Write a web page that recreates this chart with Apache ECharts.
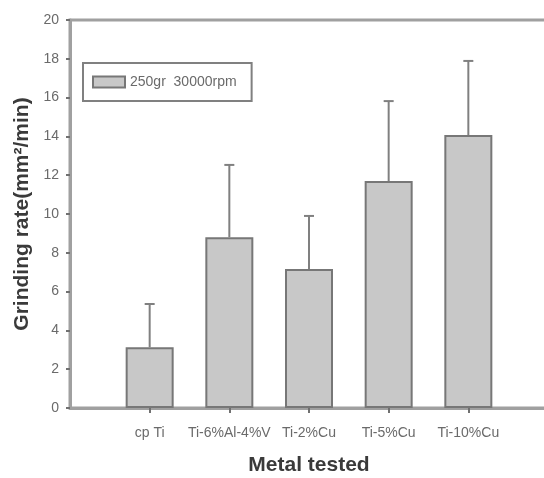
<!DOCTYPE html>
<html>
<head>
<meta charset="utf-8">
<script src="https://cdn.jsdelivr.net/npm/echarts@6/dist/echarts.min.js"></script>
<style>
  html, body { margin: 0; padding: 0; background: #fff; }
  #chart { width: 544px; height: 478px; }
</style>
</head>
<body>
<div id="chart"></div>
<script>
// data
var categories = ["cp Ti", "Ti-6%Al-4%V", "Ti-2%Cu", "Ti-5%Cu", "Ti-10%Cu"];
var rates = [3.13, 8.80, 7.16, 11.70, 14.07];
var errUpper = [5.36, 12.53, 9.90, 15.82, 17.89];
var seriesName = "250gr  30000rpm";

function draw()
{
    var chart = echarts.init(document.getElementById('chart'));

    // empty slots at both ends so bars sit where the original puts them
    var axisCats = [""].concat(categories, [""]);
    var barData = ["-"].concat(rates, ["-"]);
    var errData = categories.map(function (c, i) {
        return [i + 1, rates[i], errUpper[i]];
    });

    var labelFont = { fontFamily: "Liberation Sans, Arial", fontSize: 14, color: "#6a6a6a" };
    var titleFont = { fontFamily: "Liberation Sans, Arial", fontSize: 21, fontWeight: "bold", color: "#3a3a3a" };

    var option = {
        animation: false,
        grid: {
            left: 70, top: 20, height: 388, width: 478,
            outerBoundsMode: "none",
            show: true, borderColor: "#a0a0a0", borderWidth: 3
        },
        legend: {
            left: 83, top: 63,
            padding: [12, 15, 12, 9],
            borderColor: "#808080", borderWidth: 2,
            icon: "rect",
            itemWidth: 32, itemHeight: 11,
            textStyle: { fontFamily: "Liberation Sans, Arial", fontSize: 14, color: "#6a6a6a" },
            data: [seriesName]
        },
        xAxis: {
            type: "category",
            data: axisCats,
            boundaryGap: false,
            name: "Metal tested",
            nameLocation: "middle",
            nameGap: 47,
            nameTextStyle: titleFont,
            axisLine: { lineStyle: { color: "#a0a0a0", width: 3 } },
            axisTick: {
                interval: function (i, v) { return v !== ""; },
                length: 5, lineStyle: { color: "#707070", width: 2 }
            },
            axisLabel: Object.assign({ margin: 18, interval: 0 }, labelFont),
            splitLine: { show: false }
        },
        yAxis: {
            type: "value",
            min: 0, max: 20, interval: 2,
            name: "Grinding rate(mm²/min)",
            nameLocation: "middle",
            nameGap: 37,
            nameTextStyle: titleFont,
            axisLine: { show: true, lineStyle: { color: "#a0a0a0", width: 3 } },
            axisTick: { show: true, length: 4, lineStyle: { color: "#707070", width: 2 } },
            axisLabel: Object.assign({ margin: 11 }, labelFont),
            splitLine: { show: false }
        },
        series: [
            {
                name: seriesName,
                type: "bar",
                data: barData,
                barWidth: 48,
                itemStyle: { color: "#c8c8c8", borderColor: "#777", borderWidth: 2 },
                z: 2
            },
            {
                name: "err",
                type: "custom",
                data: errData,
                z: 3,
                renderItem: function (params, api) {
                    var x = api.value(0);
                    var lo = api.coord([x, api.value(1)]);
                    var hi = api.coord([x, api.value(2)]);
                    var half = 5;
                    var st = { stroke: "#808080", lineWidth: 2 };
                    return {
                        type: "group",
                        children: [
                            { type: "line", shape: { x1: lo[0], y1: lo[1], x2: hi[0], y2: hi[1] }, style: st },
                            { type: "line", shape: { x1: hi[0] - half, y1: hi[1], x2: hi[0] + half, y2: hi[1] }, style: st }
                        ]
                    };
                }
            }
        ]
    };

    chart.setOption(option);
}

draw();
</script>
</body>
</html>
